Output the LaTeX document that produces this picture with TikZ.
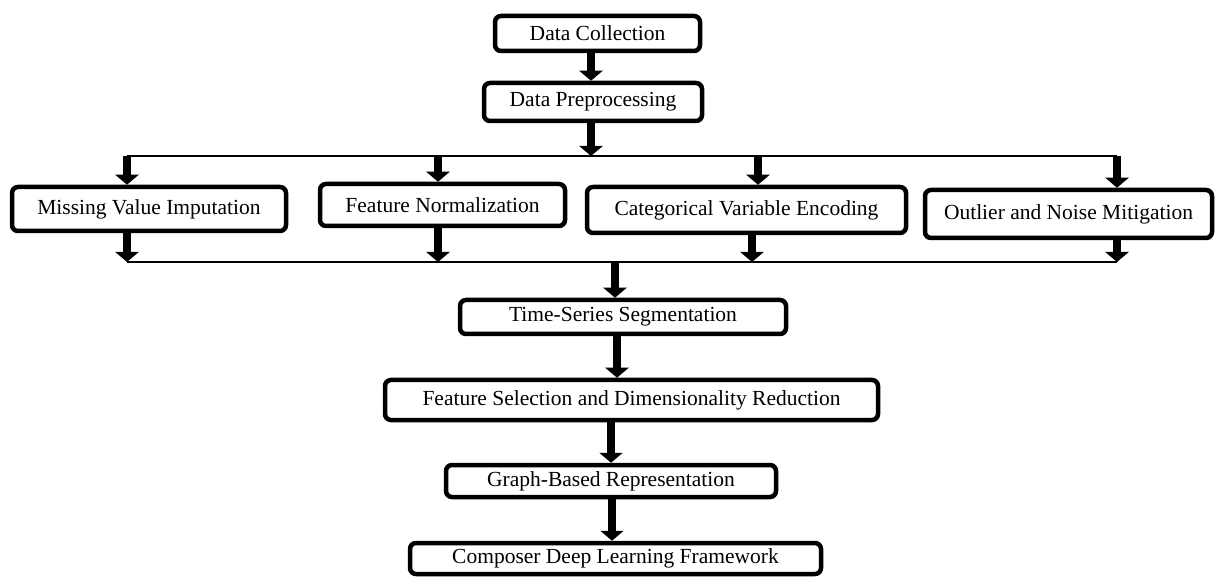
\documentclass[tikz,border=0pt]{standalone}
\usepackage{fontspec}
\setmainfont{Liberation Serif}
\usetikzlibrary{arrows.meta}
\begin{document}
\begin{tikzpicture}[x=1pt,y=-1pt,
  box/.style={draw=black, line width=4.5pt, rounded corners=6pt, fill=white,
    inner sep=0pt, font=\fontsize{21.5}{25}\selectfont, anchor=center},
  arr/.style={line width=8pt, -{Triangle[length=10pt,width=23pt]}},
  hline/.style={line width=2pt}]
\useasboundingbox (0,0) rectangle (1216,577);
\node[box, minimum width=205pt, minimum height=35pt] (dc) at (597.5,33.5) {Data Collection};
\node[box, minimum width=218pt, minimum height=38pt] (dp) at (593,102) {Data Preprocessing};
\node[box, minimum width=274pt, minimum height=44pt] (mv) at (149,209) {Missing Value Imputation};
\node[box, minimum width=245pt, minimum height=42pt] (fn) at (442.5,205) {Feature Normalization};
\node[box, minimum width=319pt, minimum height=46pt] (cv) at (746.5,210) {Categorical Variable Encoding};
\node[box, minimum width=287pt, minimum height=48pt] (on) at (1068.5,214) {Outlier and Noise Mitigation};
\node[box, minimum width=326pt, minimum height=34pt] (ts) at (623,317) {Time-Series Segmentation};
\node[box, minimum width=493pt, minimum height=40pt] (fs) at (631.5,400) {Feature Selection and Dimensionality Reduction};
\node[box, minimum width=330pt, minimum height=32pt] (gb) at (611,481) {Graph-Based Representation};
\node[box, minimum width=411pt, minimum height=31pt] (cd) at (615.5,558.5) {Composer Deep Learning Framework};

\coordinate (tl) at (127,156);
\coordinate (tr) at (1117,156);
\coordinate (tm) at (591,156);
\coordinate (bl) at (127,262);
\coordinate (br) at (1117,262);
\coordinate (bm) at (615,262);

\draw[hline] (tl) -- (tr);
\draw[hline] (bl) -- (br);

\draw[arr] (591,0 |- dc.south) -- (591,0 |- dp.north);
\draw[arr] (591,0 |- dp.south) -- (tm);

\draw[arr] (tl) -- (127,0 |- mv.north);
\draw[arr] (438,156) -- (438,0 |- fn.north);
\draw[arr] (758,156) -- (758,0 |- cv.north);
\draw[arr] (tr) -- (1117,0 |- on.north);

\draw[arr] (127,0 |- mv.south) -- (bl);
\draw[arr] (438,0 |- fn.south) -- (438,262);
\draw[arr] (752,0 |- cv.south) -- (752,262);
\draw[arr] (1117,0 |- on.south) -- (br);

\draw[arr] (bm) -- (615,0 |- ts.north);
\draw[arr] (617,0 |- ts.south) -- (617,0 |- fs.north);
\draw[arr] (611,0 |- fs.south) -- (611,0 |- gb.north);
\draw[arr] (612,0 |- gb.south) -- (612,0 |- cd.north);
\end{tikzpicture}
\end{document}
